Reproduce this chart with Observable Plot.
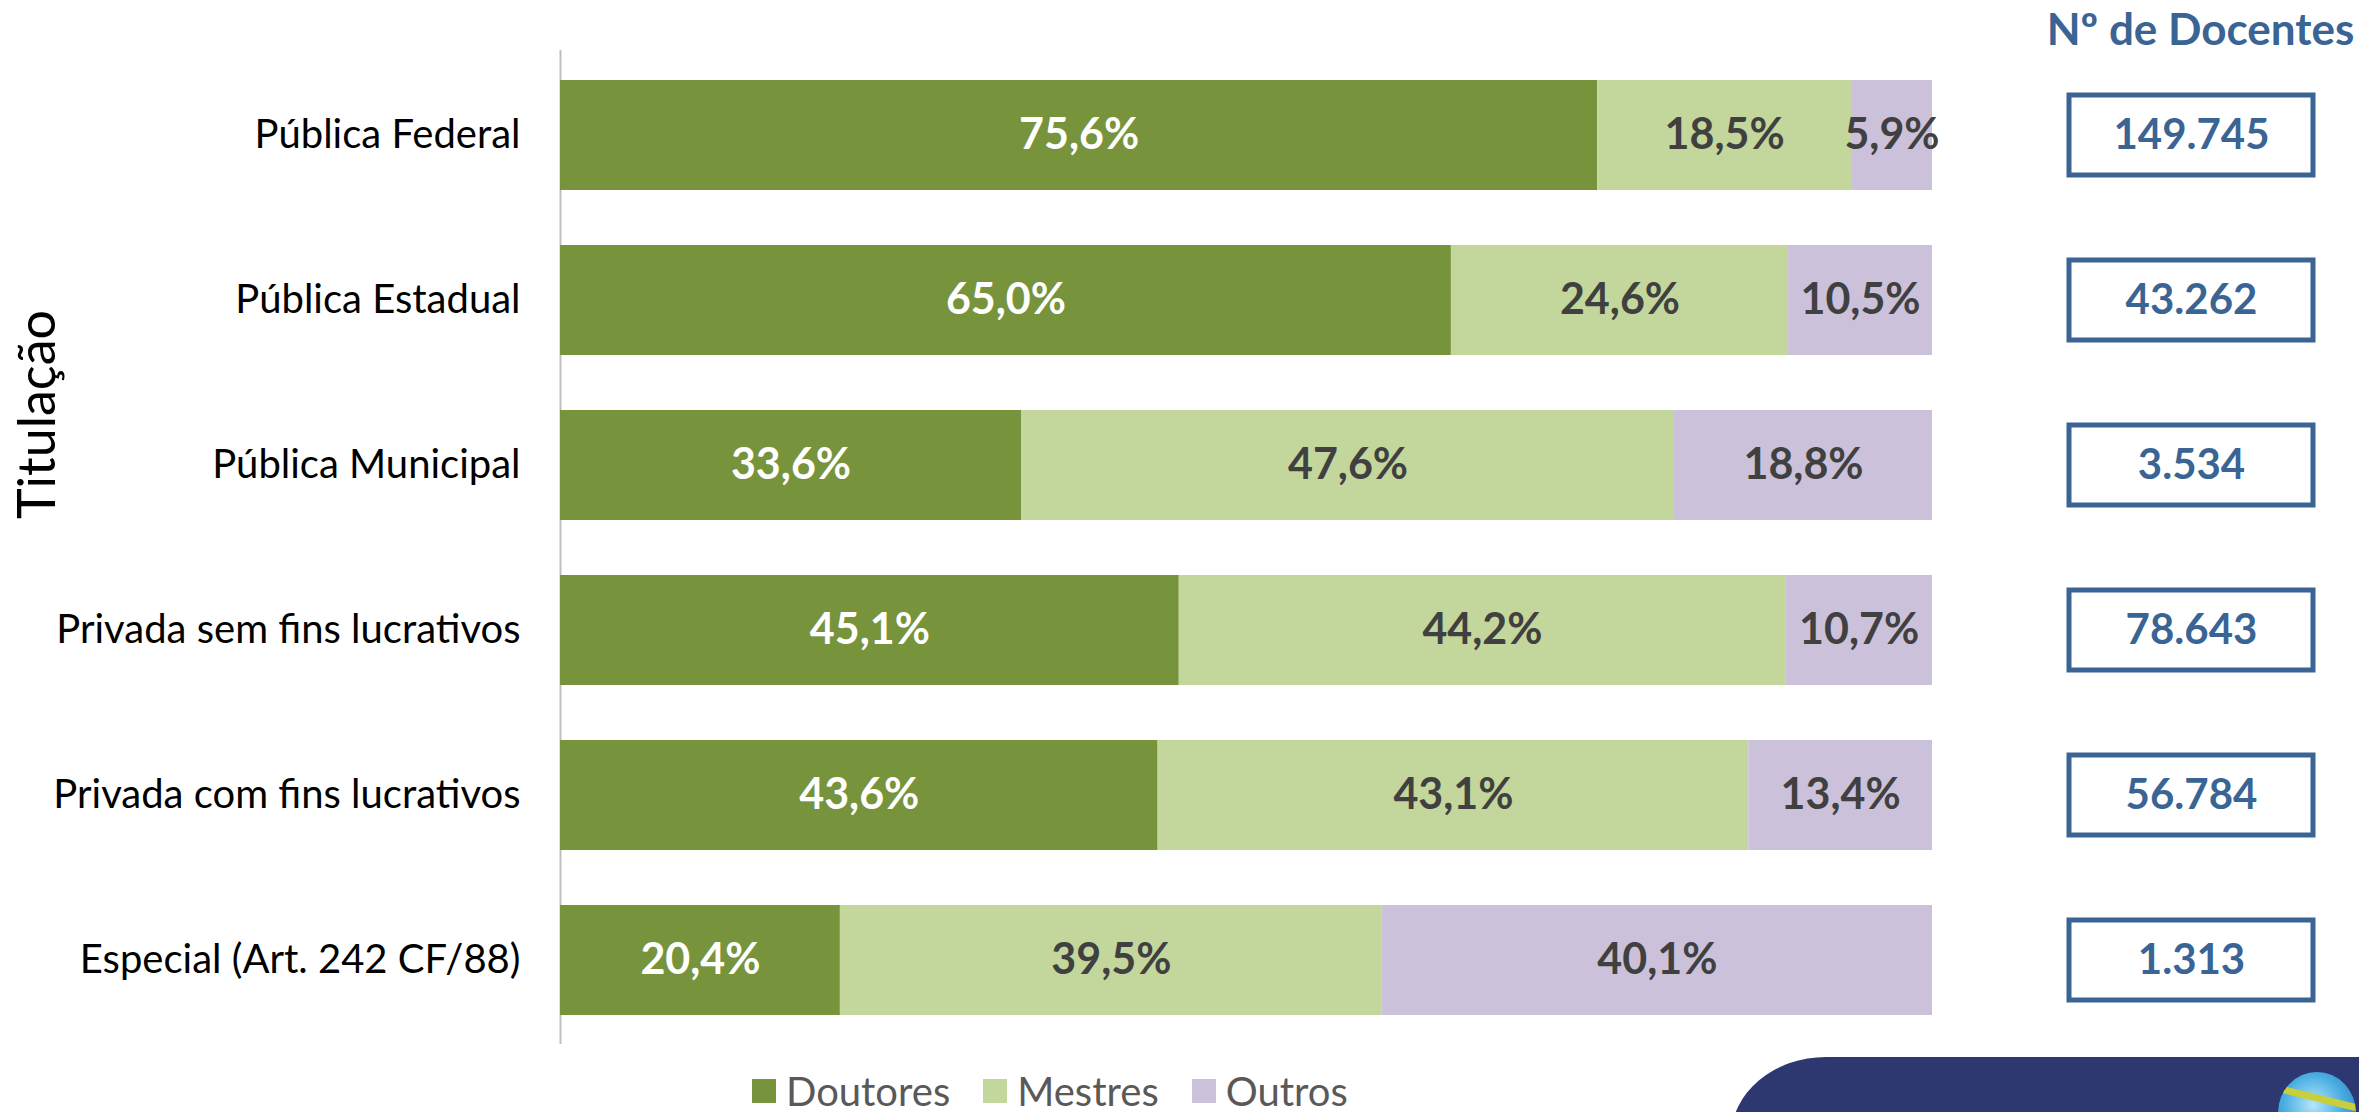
<!DOCTYPE html>
<html>
<head>
<meta charset="utf-8">
<script src="https://cdn.jsdelivr.net/npm/d3@7"></script>
<script src="https://cdn.jsdelivr.net/npm/@observablehq/plot@0.6"></script>
<style>
  html, body { margin: 0; padding: 0; background: #fff; }
  body { width: 2359px; height: 1112px; position: relative; overflow: hidden; font-family: Lato, "Open Sans", sans-serif; }
  #chart { position: absolute; left: 0; top: 0; }
  #legend { position: absolute; left: 752px; top: 1071px; display: flex; align-items: center; font-size: 40px; line-height: 40px; height: 40px; color: #595959; }
  #legend .item { display: flex; align-items: center; margin-right: 33px; }
  #legend .sw { width: 24px; height: 24px; margin-right: 10px; }
  #band { position: absolute; left: 1731px; top: 1057px; width: 700px; height: 120px; background: #2d3870; border-top-left-radius: 95px 80px; }
  #globe { position: absolute; left: 2278px; top: 1072px; width: 78px; height: 82px; border-radius: 50%;
    background: radial-gradient(circle at 45% 40%, #b5e6f8 0%, #4aaee2 45%, #1b63b0 100%); overflow: hidden; }
  #globe .stripe { position: absolute; left: -10px; top: 24px; width: 110px; height: 7px; background: #c9cf3a; transform: rotate(14deg); }
</style>
</head>
<body>
<div id="chart"></div>
<div id="legend"></div>
<div id="band"></div>
<div id="globe"><div class="stripe"></div></div>
<script>
const categories = [
  "Pública Federal",
  "Pública Estadual",
  "Pública Municipal",
  "Privada sem fins lucrativos",
  "Privada com fins lucrativos",
  "Especial (Art. 242 CF/88)"
];
const series = ["Doutores", "Mestres", "Outros"];
const doutores = [75.6, 65.0, 33.6, 45.1, 43.6, 20.4];
const mestres  = [18.5, 24.6, 47.6, 44.2, 43.1, 39.5];
const outros   = [5.9, 10.5, 18.8, 10.7, 13.4, 40.1];
const docentes = ["149.745", "43.262", "3.534", "78.643", "56.784", "1.313"];
const colors = ["#77933c", "#c3d69b", "#ccc1da"];
const headerText = "Nº de Docentes";
const axisTitle = "Titulação";

const valuesBySeries = [doutores, mestres, outros];
const data = [];
series.forEach((s, si) => {
  categories.forEach((c, ci) => {
    data.push({cat: c, serie: s, value: valuesBySeries[si][ci]});
  });
});
const docData = categories.map((c, i) => ({cat: c, n: docentes[i]}));
const fmt = v => v.toFixed(1).replace(".", ",") + "%";

const blue = "#3a6494";

const chart = Plot.plot({
  width: 2359,
  height: 1060,
  marginLeft: 560,
  marginRight: 427,
  marginTop: 50,
  marginBottom: 16,
  style: {fontFamily: "Lato, 'Open Sans', sans-serif", fontSize: "40px", color: "#000", background: "#fff"},
  x: {domain: [0, 1], axis: null},
  y: {domain: categories, paddingInner: 0.336, paddingOuter: 0.168, label: null},
  color: {domain: series, range: colors},
  marks: [
    Plot.axisY({tickSize: 0, tickPadding: 40, fontSize: 40, fill: "#000", label: null}),
    Plot.ruleX([0], {stroke: "#bfbfbf", strokeWidth: 2}),
    Plot.barX(data, Plot.stackX({offset: "normalize", x: "value", y: "cat", fill: "serie", z: "serie"})),
    Plot.text(data, Plot.stackX({offset: "normalize", x: "value", y: "cat", z: "serie",
      text: d => d.serie === "Doutores" ? fmt(d.value) : "",
      fill: () => "white", fontSize: 43, fontWeight: "bold"})),
    Plot.text(data, Plot.stackX({offset: "normalize", x: "value", y: "cat", z: "serie",
      text: d => d.serie !== "Doutores" ? fmt(d.value) : "",
      fill: () => "#404040", fontSize: 43, fontWeight: "bold"})),
    Plot.barX(docData, {x1: () => 1, x2: () => 1, y: "cat", insetLeft: 137, insetRight: -381,
      insetTop: 15, insetBottom: 15, fill: "white", stroke: blue, strokeWidth: 5}),
    Plot.text(docData, {frameAnchor: "right", y: "cat", text: "n", dx: 259, fill: blue,
      fontSize: 42, fontWeight: "bold", textAnchor: "middle"}),
    Plot.text([headerText], {frameAnchor: "top-right", text: d => d, dx: 268, dy: -20,
      fill: blue, fontSize: 44, fontWeight: "bold", textAnchor: "middle", lineAnchor: "middle"}),
    Plot.text([axisTitle], {frameAnchor: "top-left", text: d => d, dx: -522, dy: 364,
      rotate: -90, fill: "#000", fontSize: 52, textAnchor: "middle", lineAnchor: "middle"})
  ]
});
document.getElementById("chart").appendChild(chart);

const legend = document.getElementById("legend");
series.forEach((s, i) => {
  const item = document.createElement("div");
  item.className = "item";
  const sw = document.createElement("div");
  sw.className = "sw";
  sw.style.background = colors[i];
  const label = document.createElement("span");
  label.textContent = s;
  item.appendChild(sw);
  item.appendChild(label);
  legend.appendChild(item);
});
</script>
</body>
</html>
